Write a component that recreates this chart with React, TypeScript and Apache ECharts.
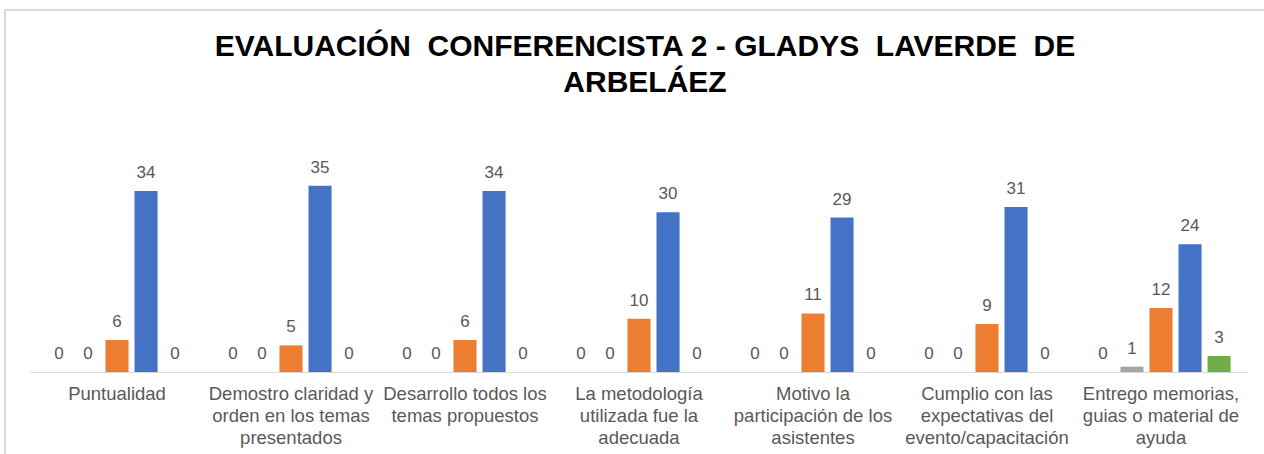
import React, { useEffect, useRef } from "react";
import * as echarts from "echarts";

const categories = [
  "Puntualidad",
  "Demostro claridad y\norden en los temas\npresentados",
  "Desarrollo todos los\ntemas propuestos",
  "La metodología\nutilizada fue la\nadecuada",
  "Motivo la\nparticipación de los\nasistentes",
  "Cumplio con las\nexpectativas del\nevento/capacitación",
  "Entrego memorias,\nguias o material de\nayuda",
];

const seriesA = [0, 0, 0, 0, 0, 0, 0];
const seriesB = [0, 0, 0, 0, 0, 0, 1];
const seriesC = [6, 5, 6, 10, 11, 9, 12];
const seriesD = [34, 35, 34, 30, 29, 31, 24];
const seriesE = [0, 0, 0, 0, 0, 0, 3];

const colors = ["#5B9BD5", "#A5A5A5", "#ED7D31", "#4472C4", "#70AD47"];
const seriesData = [seriesA, seriesB, seriesC, seriesD, seriesE];

export default function App() {
  const ref = useRef<HTMLDivElement>(null);
  useEffect(() => {
    if (!ref.current) return;
    const chart = echarts.init(ref.current, undefined, { renderer: "svg" });
    chart.setOption({
      animation: false,
      title: {
        text: "EVALUACIÓN  CONFERENCISTA 2 - GLADYS  LAVERDE  DE\nARBELÁEZ",
        left: 640,
        textAlign: "center",
        top: 22,
        textStyle: {
          fontFamily: "Liberation Sans",
          fontWeight: "bold",
          fontSize: 30,
          lineHeight: 36,
          color: "#000000",
        },
      },
      graphic: [
        {
          type: "line",
          shape: { x1: 4, y1: 10, x2: 1264, y2: 10 },
          style: { stroke: "#D9D9D9", lineWidth: 2 },
        },
        {
          type: "line",
          shape: { x1: 5, y1: 10, x2: 5, y2: 454 },
          style: { stroke: "#D9D9D9", lineWidth: 2 },
        },
      ],
      grid: { left: 30, right: 16, top: 159, bottom: 82 },
      xAxis: {
        type: "category",
        data: categories,
        axisLine: { show: true, lineStyle: { color: "#D9D9D9", width: 1 } },
        axisTick: { show: false },
        axisLabel: {
          interval: 0,
          margin: 10,
          fontFamily: "Liberation Sans",
          fontSize: 18.5,
          lineHeight: 22,
          color: "#595959",
        },
      },
      yAxis: {
        type: "value",
        min: 0,
        max: 40,
        show: false,
        splitLine: { show: false },
      },
      series: seriesData.map((d, i) => ({
        type: "bar",
        data: d,
        barGap: "26%",
        barCategoryGap: "20%",
        itemStyle: { color: colors[i] },
        label: {
          show: true,
          position: "top",
          distance: 10,
          fontFamily: "Liberation Sans",
          fontSize: 17,
          color: "#595959",
        },
      })),
    });
    return () => chart.dispose();
  }, []);
  return (
    <div
      ref={ref}
      style={{ position: "fixed", left: 0, top: 0, width: 1264, height: 454, background: "#ffffff" }}
    />
  );
}
